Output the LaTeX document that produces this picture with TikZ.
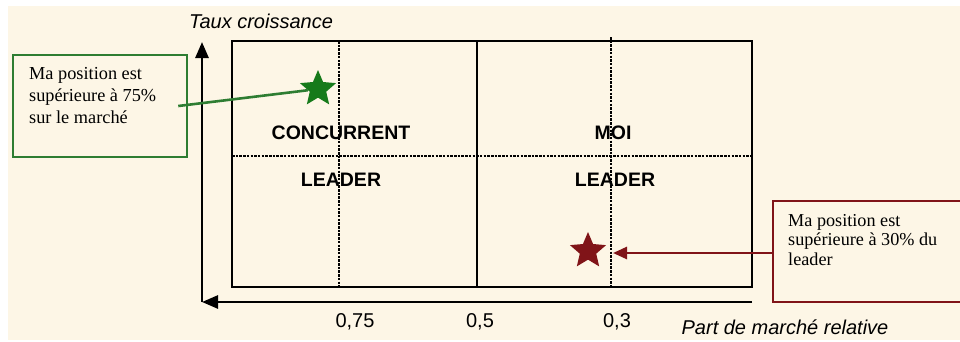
\documentclass[tikz,border=0pt]{standalone}
\usepackage{fontspec}
\setmainfont{Liberation Serif}
\setsansfont{Liberation Sans}
\usetikzlibrary{shapes.geometric,arrows.meta}
\begin{document}
\begin{tikzpicture}[x=1pt, y=-1pt,
        axe/.style={line width=2.8pt, -{Triangle[length=16pt,width=13pt]}},
        pointille/.style={line width=1.7pt, dash pattern=on 2.5pt off 1.2pt},
        quadrant/.style={font=\sffamily\bfseries\fontsize{19.5}{21}\selectfont, inner sep=0pt},
        legende/.style={font=\sffamily\itshape\fontsize{20}{22}\selectfont, inner sep=0pt},
        graduation/.style={font=\sffamily\fontsize{20}{22}\selectfont, inner sep=0pt},
        bulle/.style={draw, line width=2.5pt, fill=fond, inner sep=0pt},
        bulletexte/.style={anchor=north west, align=left, inner sep=0pt},
        etoile/.style={star, star points=5, star point ratio=2.2, minimum size=38pt, inner sep=0pt}]
        % --- CONFIGURATION ---
        \definecolor{fond}{RGB}{253, 246, 230}      % creme
        \definecolor{vertCadre}{RGB}{46, 125, 50}   % vert bulle
        \definecolor{vertEtoile}{RGB}{22, 122, 26}  % vert etoile
        \definecolor{rougeFonce}{RGB}{128, 20, 24}  % bordeaux

        \useasboundingbox (0,0) rectangle (960,341);
        \clip (0,0) rectangle (960,341);

        % Fond
        \fill[white] (0,0) rectangle (960,341);
        \fill[fond] (8,6) rectangle (960,340);

        % --- MATRICE ---
        \draw[line width=2.3pt] (232,41) rectangle (752,287);
        \draw[line width=2pt] (477,41) -- (477,287);
        \draw[pointille] (339,41) -- (339,287);
        \draw[pointille] (611,37) -- (611,287);
        \draw[pointille] (232,156) -- (752,156);

        % Axes
        \coordinate (origine) at (202,302);
        \coordinate (finX) at (752,302);
        \coordinate (hautY) at (202,42);
        \draw[axe] (finX) -- (origine);
        \draw[axe] (origine) -- (hautY);

        % Titres des axes
        \node[legende] (titreY) at (261,21) {Taux croissance};
        \node[legende] (titreX) at (785,327) {Part de marché relative};

        % Graduations
        \node[graduation] (g75) at (355,322) {0,75};
        \node[graduation] (g50) at (480,322) {0,5};
        \node[graduation] (g30) at (617,322) {0,3};

        % Quadrants
        \node[quadrant] (concurrent) at (341,133) {CONCURRENT};
        \node[quadrant] (leaderG) at (341,180) {LEADER};
        \node[quadrant] (moi) at (613,133) {MOI};
        \node[quadrant] (leaderD) at (615,180) {LEADER};

        % --- POSITIONS ---
        \node[etoile, fill=vertEtoile] (etoileV) at (318,89) {};
        \node[etoile, fill=rougeFonce] (etoileR) at (588,251) {};

        % Bulle verte
        \node[bulle, draw=vertCadre, minimum width=174pt, minimum height=102pt] (bulleV) at (100,106) {};
        \node[bulletexte, font=\fontsize{18.3}{22}\selectfont] (texteV) at (29,67)
            {Ma position est\\ supérieure à 75\%\\ sur le marché};
        \draw[vertCadre, line width=2.6pt] ([xshift=-10pt]bulleV.east) -- (etoileV);

        % Bulle rouge (coupee par le bord)
        \node[bulle, draw=rougeFonce, minimum width=227pt, minimum height=101pt] (bulleR) at (886.5,251.5) {};
        \node[bulletexte, font=\fontsize{18.2}{19.5}\selectfont] (texteR) at (788,214)
            {Ma position est\\ supérieure à 30\% du\\ leader};
        \coordinate (pointeR) at (613,253);
        \draw[rougeFonce, line width=2.6pt, -{Triangle[length=14pt,width=12pt]}] (bulleR.west |- pointeR) -- (pointeR);

\end{tikzpicture}
\end{document}
